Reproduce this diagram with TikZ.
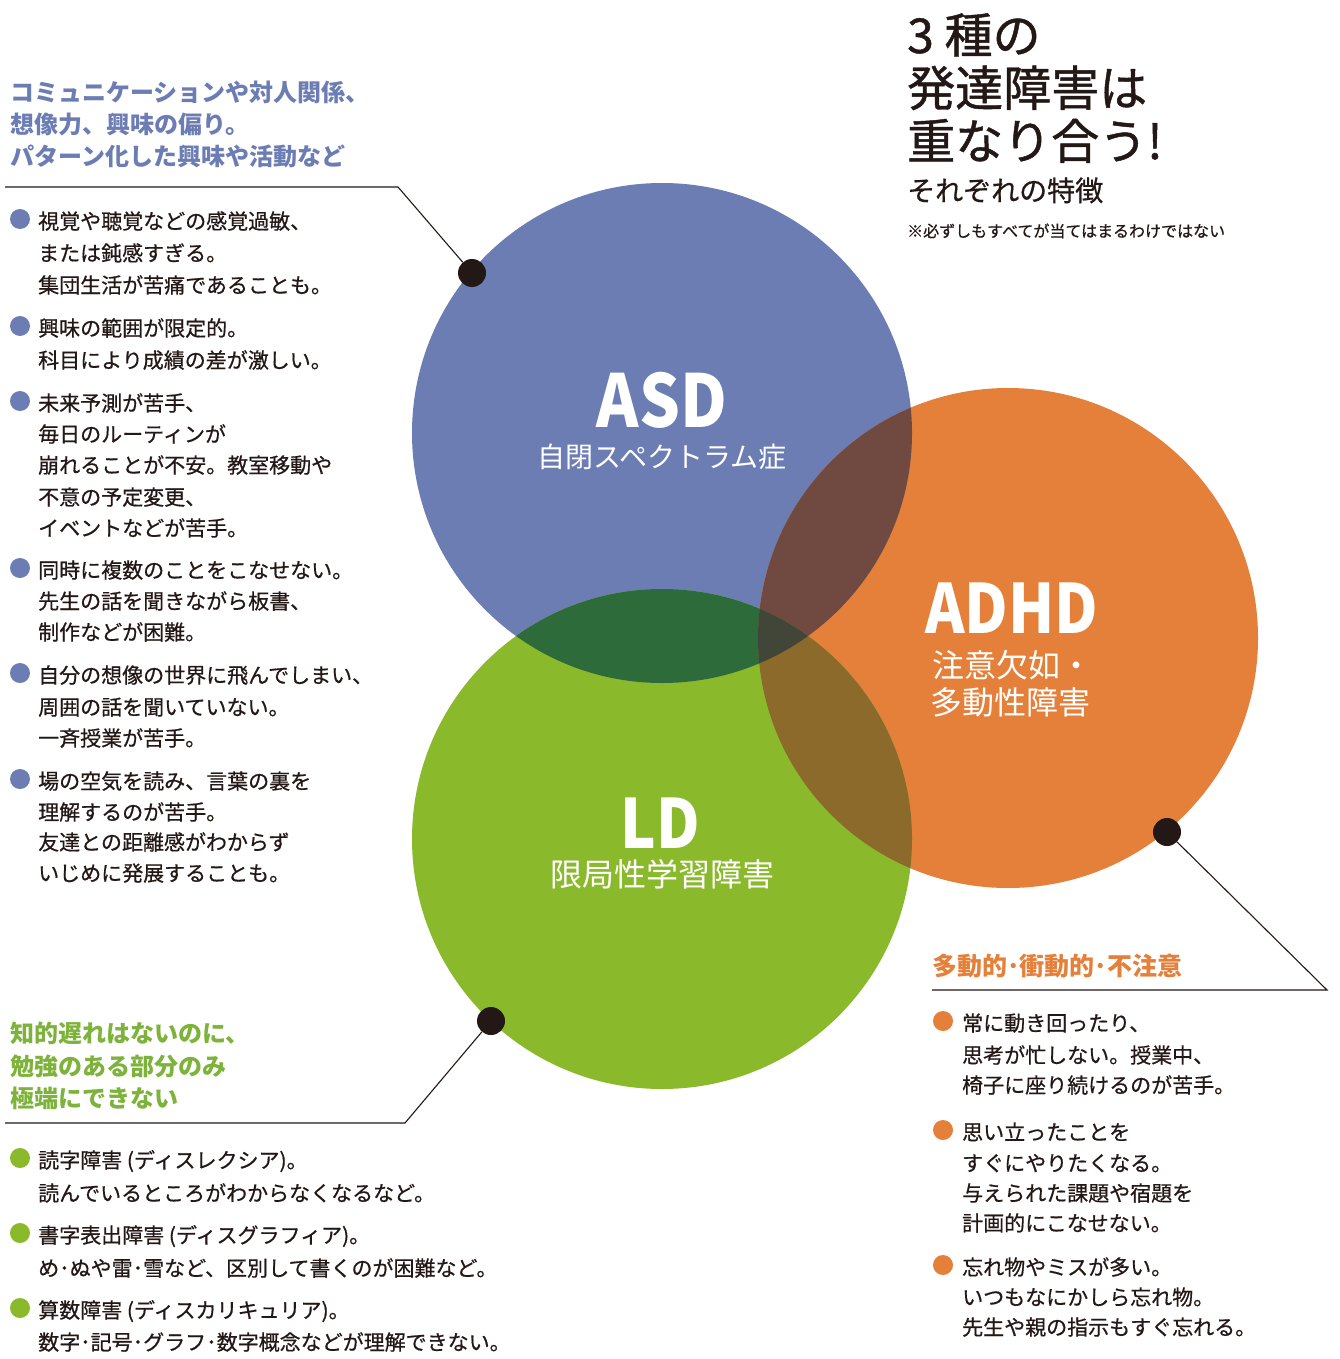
\documentclass[tikz,border=0pt]{standalone}
\usepackage{fontspec}
\usepackage{graphicx}
\setmainfont{Noto Sans CJK JP}
\newfontfamily\jpm[FakeBold=0.6]{Noto Sans CJK JP}
\newfontfamily\jpt[FakeBold=1.0]{Noto Sans CJK JP}
\definecolor{ink}{HTML}{231815}
\definecolor{asdc}{HTML}{6C7DB4}
\definecolor{adhdc}{HTML}{E5803B}
\definecolor{ldc}{HTML}{8BB92C}
\definecolor{ovab}{HTML}{704A41}
\definecolor{ovac}{HTML}{2E6B3B}
\definecolor{ovbc}{HTML}{8B6A2B}
\definecolor{ovabc}{HTML}{424638}
\definecolor{ldtext}{HTML}{7DB33A}
\newcommand{\narrowtxt}[1]{\scalebox{0.88}[1]{#1}}
\begin{document}
\begin{tikzpicture}[x=1pt,y=-1pt,
  body/.style={anchor=base west, inner sep=0pt, text=ink, font=\jpm\fontsize{21}{25}\selectfont},
  head/.style={anchor=base west, inner sep=0pt, text=#1, font=\bfseries\fontsize{24}{28}\selectfont},
  bul/.style={circle, fill=#1, minimum size=20pt, inner sep=0pt},
  pin/.style={circle, fill=ink, minimum size=28pt, inner sep=0pt},
  conn/.style={draw=ink, line width=1.1pt},
  big/.style={anchor=base, inner sep=0pt, text=white, font=\bfseries\fontsize{#1}{#1}\selectfont},
  sub/.style={anchor=base, inner sep=0pt, text=white, font=\fontsize{#1}{#1}\selectfont},
  title/.style={anchor=base west, inner sep=0pt, text=ink, font=\jpt\fontsize{48}{52}\selectfont}]
\useasboundingbox (0,0) rectangle (1340,1359);
\fill[white] (0,0) rectangle (1340,1359);

% circles
\fill[asdc] (662,433) circle[radius=250pt];
\fill[adhdc] (1008,638) circle[radius=250pt];
\fill[ldc] (662,839) circle[radius=250pt];
\begin{scope}
  \clip (662,433) circle[radius=250pt];
  \fill[ovab] (1008,638) circle[radius=250pt];
  \fill[ovac] (662,839) circle[radius=250pt];
\end{scope}
\begin{scope}
  \clip (1008,638) circle[radius=250pt];
  \fill[ovbc] (662,839) circle[radius=250pt];
  \clip (662,433) circle[radius=250pt];
  \fill[ovabc] (662,839) circle[radius=250pt];
\end{scope}

% circle labels
\node[big=73] (asdL) at (662,427) {\narrowtxt{ASD}};
\node[sub=28] (asdS) at (662,467) {自閉スペクトラム症};
\node[big=68] (adhdL) at (1012,633) {\narrowtxt{ADHD}};
\node[sub=32] (adhdS1) at (1012,677) {注意欠如・};
\node[sub=32] (adhdS2) at (1010,714) {多動性障害};
\node[big=68] (ldL) at (660,848) {\narrowtxt{LD}};
\node[sub=32] (ldS) at (662,886) {限局性学習障害};

% title
\node[title] (t1) at (907,53) {3 種の};
\node[title] (t2) at (907,106) {発達障害は};
\node[title] (t3) at (907,159) {重なり合う!};
\node[anchor=base west, inner sep=0pt, text=ink, font=\jpm\fontsize{28}{30}\selectfont] (t4) at (907,201) {それぞれの特徴};
\node[anchor=base west, inner sep=0pt, text=ink, font=\jpm\fontsize{16}{18}\selectfont] (t5) at (907,237) {※必ずしもすべてが当てはまるわけではない};

% ASD header
\foreach \y/\t [count=\i] in {93/{コミュニケーションや対人関係、}, 125/{想像力、興味の偏り。}, 157/{パターン化した興味や活動など}}
  \node[head=asdc] (ah\i) at (10,\y+9) {\t};
\coordinate (aL) at (5,187);
\coordinate (aK) at (398,187);
\node[pin] (aP) at (472,273) {};
\draw[conn] (aL) -- (aK) -- (aP);

% ASD items
\foreach \y/\t [count=\i] in {
  221/{視覚や聴覚などの感覚過敏、}, 253/{または鈍感すぎる。}, 285/{集団生活が苦痛であることも。},
  328/{興味の範囲が限定的。}, 360/{科目により成績の差が激しい。},
  403/{未来予測が苦手、}, 434/{毎日のルーティンが}, 465/{崩れることが不安。教室移動や}, 497/{不意の予定変更、}, 528/{イベントなどが苦手。},
  570/{同時に複数のことをこなせない。}, 601/{先生の話を聞きながら板書、}, 632/{制作などが困難。},
  675/{自分の想像の世界に飛んでしまい、}, 707/{周囲の話を聞いていない。}, 738/{一斉授業が苦手。},
  781/{場の空気を読み、言葉の裏を}, 812/{理解するのが苦手。}, 842/{友達との距離感がわからず}, 873/{いじめに発展することも。}}
  \node[body] (ai\i) at (38,\y+8) {\t};
\foreach \y [count=\i] in {219,326,401,568,673,779}
  \node[bul=asdc] (ab\i) at (20,\y) {};

% LD header
\foreach \y/\t [count=\i] in {1033/{知的遅れはないのに、}, 1066/{勉強のある部分のみ}, 1098/{極端にできない}}
  \node[head=ldtext] (lh\i) at (10,\y+9) {\t};
\coordinate (lL) at (5,1123);
\coordinate (lK) at (405,1123);
\node[pin] (lP) at (491,1021) {};
\draw[conn] (lL) -- (lK) -- (lP);

% LD items
\foreach \y/\t [count=\i] in {
  1160/{読字障害 (ディスレクシア)。}, 1193/{読んでいるところがわからなくなるなど。},
  1235/{書字表出障害 (ディスグラフィア)。}, 1268/{め･ぬや雷･雪など、区別して書くのが困難など。},
  1310/{算数障害 (ディスカリキュリア)。}, 1342/{数字･記号･グラフ･数字概念などが理解できない。}}
  \node[body] (li\i) at (38,\y+8) {\t};
\foreach \y [count=\i] in {1158,1233,1308}
  \node[bul=ldc] (lb\i) at (20,\y) {};

% ADHD header
\node[head=adhdc, font=\bfseries\fontsize{25}{28}\selectfont] (dh1) at (932,975) {多動的･衝動的･不注意};
\coordinate (dL) at (932,990);
\coordinate (dK) at (1327,990);
\node[pin] (dP) at (1167,832) {};
\draw[conn] (dL) -- (dK) -- (dP);

% ADHD items
\foreach \y/\t [count=\i] in {
  1023/{常に動き回ったり、}, 1055/{思考が忙しない。授業中、}, 1085/{椅子に座り続けるのが苦手。},
  1132/{思い立ったことを}, 1163/{すぐにやりたくなる。}, 1193/{与えられた課題や宿題を}, 1223/{計画的にこなせない。},
  1267/{忘れ物やミスが多い。}, 1297/{いつもなにかしら忘れ物。}, 1327/{先生や親の指示もすぐ忘れる。}}
  \node[body] (di\i) at (962,\y+8) {\t};
\foreach \y [count=\i] in {1021,1130,1265}
  \node[bul=adhdc] (db\i) at (943,\y) {};
\end{tikzpicture}
\end{document}
